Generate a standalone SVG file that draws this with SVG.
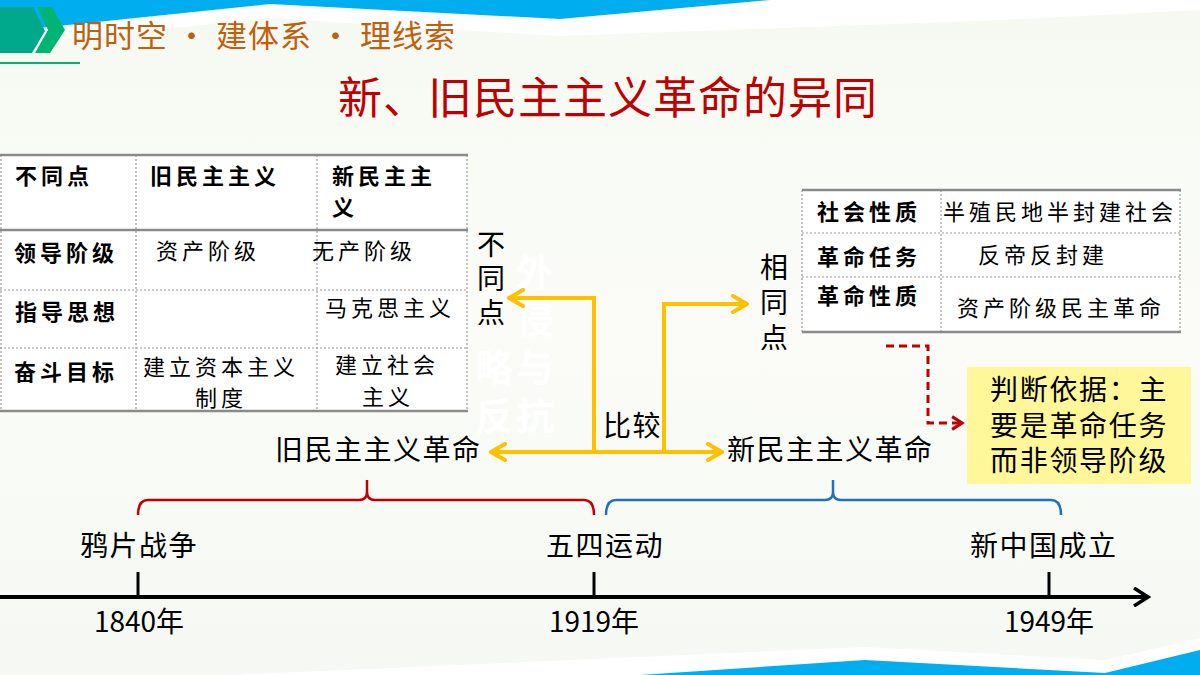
<svg xmlns="http://www.w3.org/2000/svg" width="1200" height="675" viewBox="0 0 1200 675">
<defs>
<linearGradient id="bg" x1="0" y1="0" x2="0" y2="1">
<stop offset="0" stop-color="#f6f9f2"/>
<stop offset="0.5" stop-color="#fbfcf8"/>
<stop offset="1" stop-color="#f5f8f3"/>
</linearGradient>
<marker id="ya" viewBox="0 0 20 20" refX="17" refY="10" markerWidth="20" markerHeight="20" markerUnits="userSpaceOnUse" orient="auto-start-reverse">
<path d="M3,2 L17,10 L3,18" fill="none" stroke="#ffc000" stroke-width="4" stroke-linecap="round" stroke-linejoin="round"/>
</marker>
<marker id="ra" viewBox="0 0 20 20" refX="16" refY="10" markerWidth="18" markerHeight="18" markerUnits="userSpaceOnUse" orient="auto">
<path d="M5,3 L16,10 L5,17" fill="none" stroke="#c00000" stroke-width="3.5" stroke-linejoin="miter"/>
</marker>
<marker id="ba" viewBox="0 0 20 20" refX="17" refY="10" markerWidth="20" markerHeight="20" markerUnits="userSpaceOnUse" orient="auto">
<path d="M3,1 L17,10 L3,19" fill="none" stroke="#000" stroke-width="3.5" stroke-linejoin="miter"/>
</marker>
</defs>
<style>
.t{font-family:"Noto Sans CJK SC","Noto Sans",sans-serif;}
.cell{font-family:"Noto Sans CJK SC",sans-serif;font-size:22px;letter-spacing:4px;fill:#000;}
.hd{font-weight:bold;}
.big{font-family:"Noto Sans CJK SC",sans-serif;font-size:28px;fill:#000;letter-spacing:1.5px;}
.vt{font-family:"Noto Sans CJK SC",sans-serif;font-size:28px;fill:#000;writing-mode:vertical-rl;}
.yr{font-family:"Noto Sans CJK SC",sans-serif;font-size:28px;fill:#000;}
.ghost{font-family:"Noto Sans CJK SC",sans-serif;font-size:38px;font-weight:bold;fill:#ffffff;writing-mode:vertical-rl;}
.solid{stroke:#8a8a8a;stroke-width:2.5;fill:none;}
.dot{stroke:#9a9a9a;stroke-width:1.2;stroke-dasharray:2,2;fill:none;}
.yl{stroke:#ffc000;stroke-width:4;fill:none;}
.box{font-family:"Noto Sans CJK SC",sans-serif;font-size:28px;letter-spacing:1.7px;fill:#000;}
</style>

<!-- background -->
<rect x="0" y="0" width="1200" height="675" fill="url(#bg)"/>

<!-- top band -->
<g id="header">
<path d="M0,0 H1200 V10 L1000,20 L560,36 L270,18 L0,46 Z" fill="#ffffff"/>
<path d="M0,0 H770 L560,19 L270,4 L0,32 Z" fill="#00adef"/>
<line x1="0" y1="63" x2="80" y2="63" stroke="#00b574" stroke-width="2"/>
<polygon points="0,7 33,7 45,31 32,53 0,53" fill="#00a88c"/>
<polygon points="37,7 52,7 65,30 50,53 35,53 48,30" fill="#00b574"/>
<text x="72" y="47" class="t" font-size="31" fill="#c0600e" textLength="383" lengthAdjust="spacing">明时空 • 建体系 • 理线索</text>
</g>

<!-- bottom band -->
<g id="footer">
<path d="M230,675 L865,647 L1105,660 L1200,638 V675 Z" fill="#ffffff"/>
<path d="M640,675 L865,660 L1105,673 L1200,650 V675 Z" fill="#00adef"/>
</g>

<!-- title -->
<g id="title">
<text x="608" y="114" class="t" font-size="44" fill="#c00000" text-anchor="middle" letter-spacing="1">新、旧民主主义革命的异同</text>
</g>

<!-- ghost text -->
<g id="ghost">
<text class="ghost" x="535" y="252" letter-spacing="10">外侵与抗</text>
<text class="ghost" x="494" y="348" letter-spacing="11">略反</text>
</g>

<!-- left table -->
<g id="table-diff">
<rect x="0" y="155" width="467" height="256" fill="#ffffff"/>
<line class="dot" x1="1" y1="155" x2="1" y2="411"/>
<line class="dot" x1="136" y1="155" x2="136" y2="411"/>
<line class="dot" x1="317" y1="155" x2="317" y2="411"/>
<line class="dot" x1="467" y1="155" x2="467" y2="411"/>
<line class="dot" x1="0" y1="290" x2="467" y2="290"/>
<line class="dot" x1="0" y1="348" x2="467" y2="348"/>
<line class="solid" x1="0" y1="155" x2="468" y2="155"/>
<line class="solid" x1="0" y1="230" x2="468" y2="230"/>
<line class="solid" x1="0" y1="411" x2="468" y2="411"/>
<text class="cell hd" x="15" y="184">不同点</text>
<text class="cell hd" x="150" y="184">旧民主主义</text>
<text class="cell hd"><tspan x="332" y="184">新民主主</tspan><tspan x="332" y="215">义</tspan></text>
<text class="cell hd" x="14" y="261">领导阶级</text>
<text class="cell" x="156" y="259">资产阶级</text>
<text class="cell" x="312" y="259">无产阶级</text>
<text class="cell hd" x="15" y="320">指导思想</text>
<text class="cell" x="325" y="316">马克思主义</text>
<text class="cell hd" x="14" y="380">奋斗目标</text>
<text class="cell"><tspan x="143" y="375">建立资本主义</tspan><tspan x="195" y="406">制度</tspan></text>
<text class="cell"><tspan x="335" y="373">建立社会</tspan><tspan x="362" y="405">主义</tspan></text>
</g>

<!-- right table -->
<g id="table-same">
<rect x="802" y="190" width="378" height="142" fill="#ffffff"/>
<line class="dot" x1="802" y1="190" x2="802" y2="332"/>
<line class="dot" x1="941" y1="190" x2="941" y2="332"/>
<line class="dot" x1="1180" y1="190" x2="1180" y2="332"/>
<line class="dot" x1="802" y1="233" x2="1180" y2="233"/>
<line class="dot" x1="802" y1="277" x2="1180" y2="277"/>
<line class="solid" x1="802" y1="190" x2="1181" y2="190"/>
<line class="solid" x1="802" y1="332" x2="1181" y2="332"/>
<text class="cell hd" x="817" y="220">社会性质</text>
<text class="cell" x="943" y="220">半殖民地半封建社会</text>
<text class="cell hd" x="817" y="265">革命任务</text>
<text class="cell" x="978" y="263">反帝反封建</text>
<text class="cell hd" x="817" y="304">革命性质</text>
<text class="cell" x="957" y="316">资产阶级民主革命</text>
</g>

<!-- labels -->
<g id="node-butongdian">
<text class="vt" x="491" y="230" letter-spacing="6">不同点</text>
</g>
<g id="node-xiangtongdian">
<text class="vt" x="774" y="253" letter-spacing="7">相同点</text>
</g>
<g id="node-bijiao">
<text class="big" x="603" y="436">比较</text>
</g>
<g id="node-old">
<text class="big" x="275" y="460">旧民主主义革命</text>
</g>
<g id="node-new">
<text class="big" x="727" y="460">新民主主义革命</text>
</g>
<g id="node-basis">
<rect x="967" y="367" width="224" height="117" fill="#fff799"/>
<text class="box"><tspan x="990" y="400">判断依据：主</tspan><tspan x="990" y="436">要是革命任务</tspan><tspan x="990" y="471">而非领导阶级</tspan></text>
</g>

<!-- connectors -->
<g id="connectors">
<path class="yl" d="M491,452 H722" marker-start="url(#ya)" marker-end="url(#ya)"/>
<path class="yl" d="M594,452 V298 H509" marker-end="url(#ya)"/>
<path class="yl" d="M664,452 V304 H747" marker-end="url(#ya)"/>
<path d="M886,346 H928 V423 H962" fill="none" stroke="#c00000" stroke-width="3" stroke-dasharray="8,5" marker-end="url(#ra)"/>
<path d="M138,515 Q138,500 148,500 H359 Q367,500 367,492 V480 M367,492 Q367,500 375,500 H584 Q594,500 594,515" fill="none" stroke="#c00000" stroke-width="2.5"/>
<path d="M606,515 Q606,500 616,500 H825 Q833,500 833,492 V480 M833,492 Q833,500 841,500 H1051 Q1061,500 1061,515" fill="none" stroke="#2070c0" stroke-width="2.5"/>
</g>

<!-- timeline -->
<g id="timeline">
<path d="M0,597 H1148" stroke="#000" stroke-width="4" fill="none" marker-end="url(#ba)"/>
<line x1="138" y1="572" x2="138" y2="597" stroke="#000" stroke-width="3"/>
<line x1="594" y1="572" x2="594" y2="597" stroke="#000" stroke-width="3"/>
<line x1="1049" y1="572" x2="1049" y2="597" stroke="#000" stroke-width="3"/>
</g>
<g id="ev-1840">
<text class="big" x="80" y="556">鸦片战争</text>
<text class="yr" x="139" y="632" text-anchor="middle">1840年</text>
</g>
<g id="ev-1919">
<text class="big" x="546" y="556">五四运动</text>
<text class="yr" x="594" y="632" text-anchor="middle">1919年</text>
</g>
<g id="ev-1949">
<text class="big" x="970" y="556">新中国成立</text>
<text class="yr" x="1049" y="632" text-anchor="middle">1949年</text>
</g>
</svg>
